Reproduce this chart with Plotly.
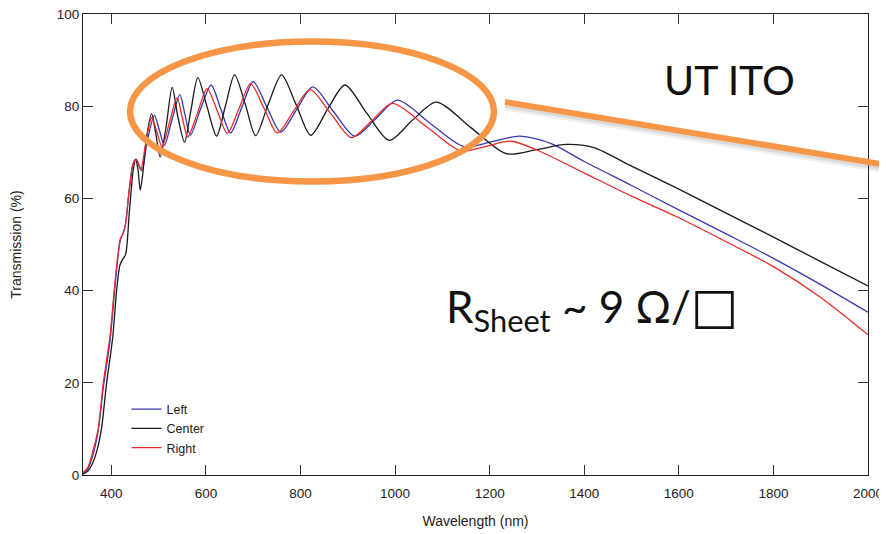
import plotly.graph_objects as go

# ---------------- data ----------------
wl_left = [340, 350, 360, 372, 383, 397, 406, 413, 419, 425, 430, 438, 446, 452, 458, 465, 475,
           491, 501, 512, 528, 544.8, 556, 567, 589, 611, 631, 652, 676, 700, 729, 758, 792,
           826, 870, 915, 960, 1005, 1075, 1146, 1205, 1263, 1330, 1400, 1500, 1600, 1700,
           1800, 1900, 2000]
t_left = [0.4, 1.3, 4.0, 9.5, 19.0, 29.0, 39.0, 46.5, 51.0, 52.5, 54.5, 62.0, 67.5, 68.5, 67.3, 66.0, 72.0,
          78.0, 75.0, 71.5, 77.0, 82.5, 78.0, 73.7, 79.5, 84.6, 79.5, 74.2, 79.8, 85.3, 79.8, 74.4, 79.3,
          84.2, 78.8, 73.5, 77.4, 81.3, 76.2, 71.2, 72.3, 73.5, 71.9, 68.0, 62.8, 57.5, 52.3,
          47.0, 41.3, 35.3]

wl_center = [340, 350, 360, 370, 379, 390, 403, 411, 418, 424, 430, 438, 446, 451, 456, 461, 466,
             474, 485, 494, 503, 515, 528.6, 541, 554.7, 568, 582.8, 602, 622.5, 641, 660.6, 683,
             705, 732, 760, 790, 821.6, 858, 894, 940, 987.5, 1037, 1087, 1161, 1234.7, 1300,
             1362, 1420, 1500, 1600, 1700, 1800, 1900, 2000]
t_center = [0.2, 0.8, 2.5, 5.5, 10.0, 20.0, 30.0, 40.0, 45.5, 46.8, 47.8, 57.0, 66.0, 68.4, 66.5, 61.8, 65.0,
            73.0, 78.4, 74.0, 69.0, 75.0, 84.1, 77.5, 72.2, 79.0, 86.2, 80.0, 73.5, 80.0, 86.8, 80.5,
            73.6, 80.5, 86.8, 80.5, 73.7, 79.5, 84.6, 78.5, 72.6, 77.0, 80.9, 75.3, 69.7, 70.6,
            71.7, 71.0, 67.0, 62.0, 56.8, 51.6, 46.3, 41.0]

wl_right = [340, 350, 360, 372, 383, 397, 406, 413, 419, 425, 430, 438, 446, 453.6, 462, 472,
            485, 496, 507, 523, 539, 550, 561.6, 582, 602.5, 624, 645, 670, 694.5, 723, 751, 785,
            820, 864, 907.8, 951, 994.5, 1067, 1139, 1192, 1245, 1300, 1400, 1500, 1600, 1700,
            1800, 1900, 2000]
t_right = [0.5, 1.6, 4.8, 10.0, 20.0, 30.0, 40.0, 47.0, 51.2, 52.5, 54.5, 62.0, 67.5, 68.4, 66.2, 71.5,
           77.5, 74.5, 71.2, 76.5, 81.8, 77.5, 73.3, 78.5, 83.8, 79.0, 74.1, 79.5, 84.9, 79.5, 74.2, 78.9,
           83.6, 78.4, 73.2, 76.9, 80.6, 75.5, 70.3, 71.3, 72.4, 70.5, 65.5, 60.5, 55.8, 50.6,
           45.2, 38.5, 30.4]

series = [("Left", wl_left, t_left, "#3838b4"),
          ("Center", wl_center, t_center, "#1a1a1a"),
          ("Right", wl_right, t_right, "#f02828")]

x_ticks = [400, 600, 800, 1000, 1200, 1400, 1600, 1800, 2000]
y_ticks = [0, 20, 40, 60, 80, 100]

# ---------------- figure ----------------
# page body has an 8px margin; the plot area should sit at page x 83..868, y 14..475
W, H = 887, 534
OFF = 8
PL, PR, PT, PB = 83, 868, 14, 475          # plot area in page pixels
L, T = PL - OFF, PT - OFF
R = W + OFF - PR
B = H + OFF - PB

fig = go.Figure()
for name, xs, ys, col in series:
    fig.add_trace(go.Scatter(x=xs, y=ys, mode="lines", name=name,
                             line=dict(color=col, width=1.3, shape="spline", smoothing=0.8)))

def px2paper(px, py):
    return (px - PL) / (PR - PL), (PB - py) / (PB - PT)

ORANGE = "#F79646"
# soft shadow of the pointer line
for dy, a, w in [(4, 0.10, 9), (3, 0.16, 6)]:
    sx0, sy0 = px2paper(505, 102 + dy)
    sx1, sy1 = px2paper(887, 165 + dy)
    fig.add_shape(type="line", xref="paper", yref="paper", x0=sx0, y0=sy0, x1=sx1, y1=sy1,
                  line=dict(color=f"rgba(110,110,110,{a})", width=w), layer="above")
lx0, ly0 = px2paper(505, 102)
lx1, ly1 = px2paper(887, 165)
fig.add_shape(type="line", xref="paper", yref="paper", x0=lx0, y0=ly0, x1=lx1, y1=ly1,
              line=dict(color=ORANGE, width=6), layer="above")
ex0, ey0 = px2paper(130, 41.5)
ex1, ey1 = px2paper(494, 181.5)
fig.add_shape(type="circle", xref="paper", yref="paper", x0=ex0, y0=ey1, x1=ex1, y1=ey0,
              line=dict(color=ORANGE, width=6.5), layer="above")

ax, ay = px2paper(729, 79)
fig.add_annotation(xref="paper", yref="paper", x=ax, y=ay, text="UT ITO", showarrow=False,
                   font=dict(family="Lato, Carlito, sans-serif", size=41, color="#111"),
                   xanchor="center", yanchor="middle")
bx, by = px2paper(444, 308)
fig.add_annotation(xref="paper", yref="paper", x=bx, y=by,
                   text="R<sub>Sheet</sub> ~ 9 Ω/<span style=\"font-family:'DejaVu Sans';font-size:50px\">□</span>",
                   showarrow=False,
                   font=dict(family="Lato, Carlito, sans-serif", size=44, color="#111"),
                   xanchor="left", yanchor="middle")

FONT = "Arial, Liberation Sans, sans-serif"
axis_common = dict(showline=True, linecolor="#222", linewidth=1, mirror="ticks",
                   ticks="inside", ticklen=10, tickcolor="#333", tickwidth=1,
                   showgrid=False, zeroline=False, automargin=False,
                   ticklabeloverflow="allow",
                   tickfont=dict(family=FONT, size=13.5, color="#222"))

fig.update_layout(
    width=W, height=H,
    margin=dict(l=L, r=R, t=T, b=B, autoexpand=False),
    paper_bgcolor="white", plot_bgcolor="white",
    xaxis=dict(range=[340, 2000], tickvals=x_ticks, ticktext=[str(v) for v in x_ticks],
               ticklabelstandoff=6,
               title=dict(text="Wavelength (nm)", standoff=15,
                          font=dict(family=FONT, size=14, color="#222")),
               **axis_common),
    yaxis=dict(range=[0, 100], tickvals=y_ticks, ticktext=[str(v) for v in y_ticks],
               title=dict(text="Transmission (%)", standoff=37,
                          font=dict(family=FONT, size=14, color="#222")),
               **axis_common),
    legend=dict(x=0.0554, y=0.1745, xanchor="left", yanchor="top", bgcolor="rgba(0,0,0,0)",
                font=dict(family=FONT, size=12.5, color="#222"),
                tracegroupgap=0, itemwidth=30),
    showlegend=True,
)

fig.write_html("out.html")
